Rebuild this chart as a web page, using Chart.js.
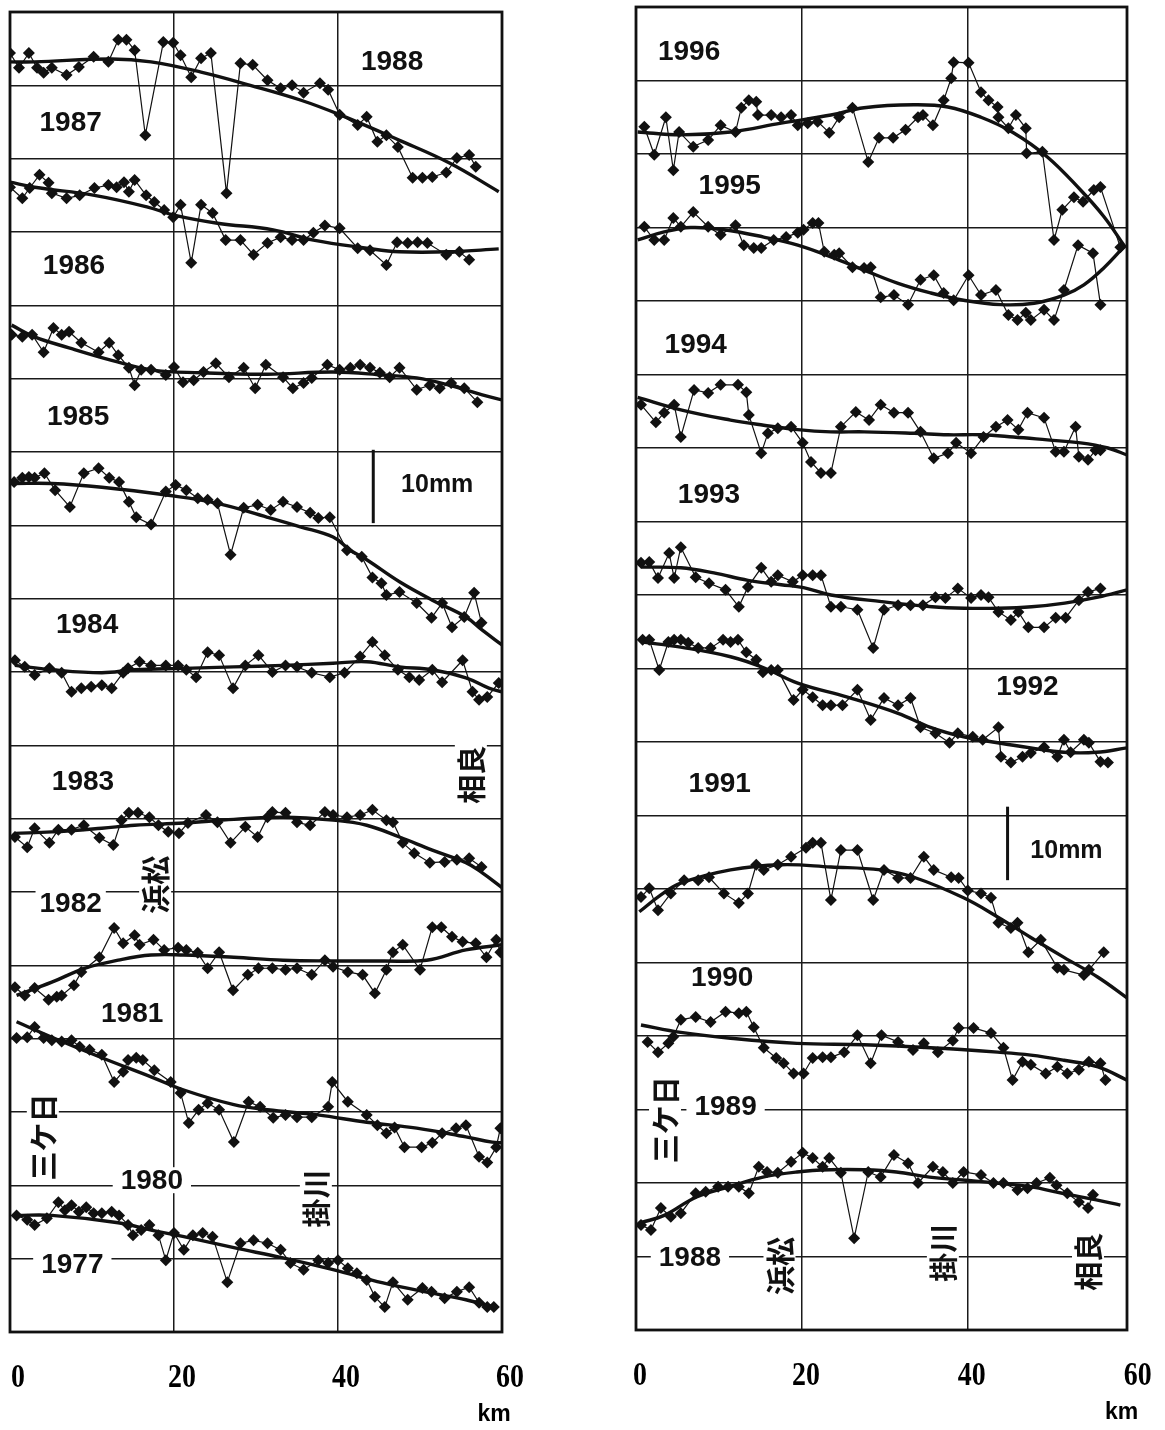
<!DOCTYPE html>
<html><head><meta charset="utf-8">
<script src="https://cdn.jsdelivr.net/npm/chart.js@4.4.1/dist/chart.umd.min.js"></script>
<style>
html,body{margin:0;padding:0;background:#fff;}
#wrap{position:relative;width:1165px;height:1430px;overflow:hidden;}
#cL{position:absolute;left:0;top:0;}
#cR{position:absolute;left:565px;top:0;}
</style></head><body>
<div id="wrap"><canvas id="cL" width="565" height="1430"></canvas><canvas id="cR" width="600" height="1430"></canvas></div>
<script>
// ---- x ticks (km) ----
const kmTicks = [0, 20, 40, 60];

// ---- LEFT PANEL: observed [km, plotted mm] and fitted curves ----
const obs8788 = [[0,174.4],[1.1,172.4],[2.3,174.4],[3.3,172.4],[4.1,171.7],[5.1,172.4],[6.9,171.4],[8.4,172.5],[10.2,173.9],[12.0,173.2],[13.2,176.2],[14.2,176.2],[15.2,174.8],[16.5,163.2],[18.7,175.9],[19.9,175.8],[20.8,174.1],[22.1,171.1],[23.3,173.7],[24.5,174.4],[26.4,155.3],[28.1,173.0],[29.6,172.8],[31.4,170.7],[33.0,169.6],[34.4,170.0],[35.8,169.0],[37.8,170.3],[38.8,169.4],[40.2,166.0],[42.4,164.6],[43.5,165.7],[44.8,162.3],[45.9,163.2],[47.3,161.6],[49.1,157.4],[50.3,157.4],[51.5,157.5],[53.2,158.1],[54.5,160.1],[56.0,160.5],[56.8,158.9]];
const fit8788 = [[0,173.2],[3.0,173.2],[12.4,173.6],[17.2,173.2],[23.3,171.8],[29.3,170.0],[35.4,168.0],[40.2,166.0],[47.5,162.5],[53.6,159.4],[59.6,155.5]];

const obs8687 = [[0,156.1],[1.5,154.6],[2.4,156.0],[3.6,157.8],[4.7,156.7],[5.1,155.3],[6.9,154.6],[8.5,155.0],[10.3,156.0],[12.0,156.4],[13.0,156.1],[13.9,156.8],[14.5,155.5],[15.2,157.1],[16.6,155.0],[17.6,154.1],[18.8,153.0],[19.9,152.0],[20.8,153.7],[22.1,145.8],[23.3,153.7],[24.7,152.6],[26.3,148.9],[28.1,148.9],[29.7,146.9],[31.4,148.5],[33.0,149.3],[34.4,148.9],[35.8,148.9],[37.0,149.9],[38.4,150.9],[40.2,150.5],[42.4,147.8],[43.9,147.5],[45.9,145.5],[47.2,148.6],[48.5,148.5],[49.7,148.6],[50.9,148.5],[53.2,146.9],[54.8,147.3],[56.0,146.2]];
const fit8687 = [[0,156.8],[3.0,156.1],[10.3,155.0],[16.8,153.4],[20.0,152.3],[25.3,151.2],[32.1,150.3],[37.0,148.9],[43.5,147.8],[47.5,147.3],[53.6,147.3],[59.6,147.7]];

const obs8586 = [[0.2,136.0],[1.5,135.7],[2.7,136.0],[4.1,133.6],[5.3,136.9],[6.3,136.0],[7.2,136.4],[8.7,134.9],[10.8,133.6],[12.1,134.9],[13.2,133.2],[14.5,131.5],[15.2,129.1],[16.0,131.2],[17.2,131.2],[19.0,130.5],[20.0,131.6],[21.1,129.5],[22.4,129.8],[23.6,130.9],[25.1,132.1],[26.7,130.2],[28.5,131.5],[29.9,128.7],[31.2,131.9],[33.3,130.2],[34.5,128.7],[35.8,129.4],[36.8,130.1],[38.7,131.9],[40.2,131.2],[41.5,131.5],[42.7,131.9],[43.9,131.5],[45.1,130.8],[46.3,130.2],[47.5,131.5],[49.6,128.5],[51.2,129.1],[52.4,128.7],[53.8,129.4],[55.4,128.7],[57.0,126.8]];
const fit8586 = [[0.2,137.3],[3.0,135.7],[7.2,134.2],[12.4,132.5],[17.2,131.2],[23.3,130.8],[31.4,130.6],[39.4,130.9],[45.5,130.5],[49.6,130.1],[53.6,129.1],[57.6,127.8],[60,127.1]];

const obs8485 = [[0.5,115.9],[1.5,116.5],[2.3,116.6],[3.0,116.5],[4.2,117.1],[5.5,114.8],[7.3,112.5],[9.0,117.1],[10.8,117.8],[12.1,116.5],[13.3,115.9],[14.5,113.2],[15.4,111.1],[17.2,110.1],[19.0,114.6],[20.2,115.5],[21.5,114.8],[22.9,113.7],[24.1,113.5],[25.3,113.0],[26.9,106.0],[28.5,112.4],[30.2,112.8],[31.8,112.1],[33.3,113.2],[35.0,112.5],[36.6,111.7],[37.6,111.0],[39.0,111.1],[41.1,106.6],[42.9,105.7],[44.2,102.9],[45.3,102.1],[45.9,100.5],[47.5,100.9],[49.6,99.4],[51.4,97.4],[52.7,99.4],[53.9,96.1],[55.4,97.5],[56.6,100.8],[57.5,96.7]];
const fit8485 = [[0.5,115.7],[5.1,115.7],[11.2,115.2],[19.3,114.1],[25.3,113.0],[31.4,111.1],[35.4,109.8],[39.4,108.4],[41.5,106.6],[43.5,105.3],[47.5,102.3],[51.5,99.8],[55.6,97.5],[57.6,95.7],[60,93.7]];

const obs8384 = [[0.6,91.6],[1.8,90.7],[3.0,89.6],[4.8,90.5],[6.3,89.9],[7.5,87.3],[8.7,87.8],[9.9,88.0],[11.2,88.2],[12.4,87.8],[13.8,89.9],[14.4,90.5],[15.8,91.4],[17.2,90.9],[19.0,90.9],[20.5,90.9],[21.5,90.3],[22.7,89.3],[24.1,92.7],[25.5,92.3],[27.2,87.8],[28.7,90.9],[30.3,92.3],[32.0,90.0],[33.6,90.9],[35.0,90.7],[36.8,89.9],[39.0,89.3],[40.8,89.9],[42.7,92.1],[44.2,94.1],[45.7,92.3],[47.3,90.3],[48.7,89.3],[49.9,88.9],[51.5,90.3],[52.7,88.6],[55.2,91.6],[56.4,87.3],[57.2,86.2],[58.2,86.6],[59.6,88.5]];
const fit8384 = [[0.6,90.9],[5.1,90.3],[11.2,89.9],[15.2,90.3],[21.2,90.5],[27.3,90.7],[33.3,90.9],[39.4,91.2],[43.5,91.4],[47.5,90.7],[51.5,90.3],[55.6,89.2],[58.4,87.8],[60,87.3]];

const obs8283 = [[0.6,67.5],[2.1,66.1],[3.0,68.7],[4.8,66.7],[5.9,68.5],[7.5,68.5],[9.0,69.1],[10.9,67.4],[12.6,66.4],[13.6,69.8],[14.5,70.8],[15.6,70.8],[17.0,70.2],[18.1,69.1],[19.3,68.2],[20.6,68.0],[21.7,69.4],[23.9,70.5],[25.3,69.5],[26.9,66.7],[28.7,68.9],[30.2,67.5],[31.4,70.2],[32.0,70.9],[33.6,70.8],[35.0,69.5],[36.6,69.1],[38.4,70.9],[39.4,70.5],[41.1,70.2],[42.7,70.5],[44.2,71.2],[45.9,69.8],[46.7,69.5],[47.9,66.7],[49.3,65.3],[51.2,64.0],[53.0,64.1],[54.5,64.4],[56.0,64.6],[57.5,63.4]];
const fit8283 = [[0.6,68.0],[5.1,68.2],[11.2,68.7],[15.2,69.1],[21.2,69.4],[27.3,69.9],[33.3,70.2],[39.4,69.8],[43.5,69.1],[47.5,67.5],[51.5,65.7],[55.6,64.0],[57.6,62.6],[60,60.6]];

const obs8182 = [[0.6,47.0],[1.8,45.9],[3.0,46.9],[4.7,45.3],[5.7,45.7],[6.3,45.9],[7.8,47.3],[8.7,49.1],[10.9,51.1],[12.7,55.1],[13.8,53.0],[15.2,54.1],[15.8,52.8],[17.5,53.5],[18.8,52.1],[20.5,52.4],[21.5,52.1],[22.9,51.7],[24.1,49.6],[25.5,51.8],[27.2,46.6],[29.0,48.7],[30.3,49.6],[32.0,49.6],[33.6,49.4],[35.0,49.6],[36.8,48.7],[38.4,50.7],[39.4,49.8],[41.2,49.1],[43.0,48.7],[44.5,46.2],[45.9,49.4],[46.7,51.8],[47.9,52.8],[50.0,49.4],[51.5,55.2],[52.6,55.2],[53.9,53.9],[55.2,53.2],[56.8,53.0],[58.1,51.1],[59.3,53.5],[59.8,51.8]];
const fit8182 = [[0.8,45.9],[5.1,47.7],[9.1,49.6],[13.2,50.7],[17.2,51.4],[21.2,51.4],[27.3,51.1],[33.3,50.7],[39.4,50.6],[45.5,50.6],[50.8,50.7],[55.6,52.1],[60,52.8]];

const obs8081 = [[0.8,40.1],[2.1,40.2],[3.0,41.6],[4.1,40.1],[5.1,39.8],[6.3,39.6],[7.5,39.8],[8.5,38.9],[9.7,38.5],[11.2,37.8],[12.7,34.1],[13.8,35.5],[14.4,37.1],[15.4,37.4],[16.2,37.1],[17.6,35.7],[19.6,34.1],[20.8,32.6],[21.8,28.5],[23.0,30.3],[24.1,31.2],[25.5,30.3],[27.3,25.9],[29.1,31.4],[30.5,30.7],[32.1,29.2],[33.6,29.6],[35.0,29.3],[36.8,29.3],[38.8,30.7],[39.3,34.1],[41.2,31.4],[43.5,29.6],[44.8,28.2],[45.9,27.1],[46.9,27.9],[48.1,25.2],[50.2,25.2],[51.5,25.8],[52.7,27.1],[54.4,27.8],[55.6,28.2],[57.2,23.9],[58.2,23.1],[59.3,25.2],[59.8,27.8]];
const fit8081 = [[0.8,42.3],[5.1,40.2],[11.2,37.4],[17.2,34.8],[21.2,33.0],[27.3,31.0],[31.4,30.3],[37.5,29.6],[43.5,28.6],[49.6,27.8],[55.6,26.6],[58.8,25.9],[60,25.8]];

const obs7780 = [[0.8,15.9],[2.1,15.3],[3.0,14.6],[4.5,15.5],[5.9,17.7],[6.7,16.6],[7.5,17.3],[8.4,16.4],[9.3,17.0],[10.2,16.2],[11.2,16.2],[12.4,16.4],[13.3,15.9],[14.4,14.6],[15.0,13.2],[16.0,13.9],[17.0,14.6],[18.1,13.2],[19.0,9.8],[20.0,13.5],[21.2,11.2],[22.3,13.2],[23.5,13.5],[24.7,13.0],[26.5,6.8],[28.1,12.1],[29.7,12.5],[31.4,12.1],[33.0,11.2],[34.2,9.4],[35.8,8.5],[37.6,9.8],[38.8,9.4],[40.0,9.8],[41.2,8.7],[42.3,8.0],[43.5,7.1],[44.5,4.8],[45.7,3.4],[46.7,6.8],[48.5,4.4],[50.3,6.0],[51.4,5.5],[53.0,4.6],[54.5,5.5],[56.0,6.1],[57.2,4.0],[58.2,3.4],[59.0,3.4]];
const fit7780 = [[0.8,15.9],[5.1,15.9],[13.2,14.9],[17.2,13.9],[21.2,13.0],[27.3,11.5],[33.3,10.1],[39.4,8.5],[45.5,6.7],[51.5,5.3],[55.6,4.4],[59.0,3.4]];

// ---- RIGHT PANEL ----
const obs9596 = [[1.0,163.7],[2.2,159.9],[3.6,165.0],[4.5,157.8],[5.2,163.0],[6.9,161.0],[8.7,161.9],[10.2,163.9],[12.0,163.0],[12.7,166.3],[13.6,167.3],[14.5,167.1],[14.7,165.3],[16.3,165.3],[17.5,165.0],[18.7,165.3],[19.5,163.9],[20.7,164.2],[21.9,164.4],[23.3,162.9],[24.5,165.0],[26.1,166.3],[28.0,158.9],[29.3,162.2],[31.0,162.2],[32.5,163.3],[34.0,165.0],[34.6,165.3],[35.8,163.9],[37.1,167.3],[38.0,170.3],[38.3,172.5],[40.1,172.4],[41.6,168.4],[42.5,167.3],[43.6,166.4],[43.7,165.0],[44.9,163.5],[45.8,165.3],[47.0,163.5],[47.1,160.1],[49.0,160.3],[50.4,148.3],[51.4,152.4],[52.8,154.1],[53.9,153.5],[55.2,155.1],[56.0,155.5],[58.4,147.3]];
const fit9596 = [[0.2,163.0],[5.4,162.6],[11.4,163.0],[17.5,164.2],[23.5,165.3],[27.5,166.3],[33.5,166.7],[37.6,166.4],[41.6,165.0],[45.5,162.9],[49.6,159.6],[53.6,155.1],[56.4,151.5],[59.0,147.3]];

const obs9495 = [[1.0,150.1],[2.2,148.3],[3.4,148.3],[4.5,151.3],[5.4,150.1],[6.9,152.1],[8.7,150.1],[10.2,149.0],[12.0,150.3],[13.0,147.6],[14.2,147.2],[15.1,147.2],[16.6,148.3],[18.1,148.7],[19.5,149.3],[20.2,149.7],[21.3,150.6],[22.0,150.6],[22.7,146.7],[23.9,146.3],[24.5,146.5],[26.1,144.6],[27.5,144.5],[28.3,144.6],[29.5,140.5],[31.1,140.8],[32.8,139.5],[34.3,142.9],[35.9,143.5],[37.1,141.1],[38.3,140.1],[40.1,143.5],[41.6,140.8],[43.4,141.5],[44.9,138.1],[46.0,137.4],[47.0,138.4],[47.6,137.4],[49.2,138.8],[50.4,137.4],[51.6,141.5],[53.3,147.6],[55.1,146.5],[56.0,139.5]];
const fit9495 = [[0.2,148.3],[3.4,149.4],[6.6,150.0],[10.6,149.7],[15.4,148.7],[19.5,147.6],[23.5,146.0],[27.5,144.2],[31.6,142.4],[35.5,141.1],[39.5,140.1],[44.0,139.5],[48.0,139.7],[51.6,140.8],[54.0,142.2],[56.4,144.5],[59.0,147.6]];

const obs9394 = [[0.6,125.9],[2.4,123.5],[3.4,124.8],[4.6,125.9],[5.4,121.5],[7.0,127.9],[8.7,127.5],[10.2,128.6],[12.3,128.6],[13.3,127.6],[13.6,124.5],[15.1,119.3],[15.9,122.0],[17.1,122.7],[18.7,122.9],[20.1,120.7],[21.1,118.1],[22.3,116.6],[23.5,116.6],[24.7,122.9],[26.5,124.9],[28.1,123.8],[29.5,125.9],[31.1,124.8],[32.8,124.8],[34.3,122.2],[35.9,118.6],[37.6,119.3],[38.6,120.7],[40.4,119.3],[41.9,121.5],[43.4,122.9],[44.8,123.8],[46.1,122.5],[47.2,124.8],[49.2,124.1],[50.6,119.5],[51.6,119.5],[53.0,122.9],[53.4,118.8],[54.5,118.4],[55.4,119.7],[56.0,119.7]];
const fit9394 = [[0.2,126.9],[5.4,125.2],[11.4,123.8],[15.4,123.1],[19.5,122.5],[23.5,122.2],[27.5,122.2],[33.5,122.0],[37.6,121.8],[41.6,121.8],[45.5,121.5],[49.6,121.1],[53.6,120.7],[56.9,120.0],[59.2,119.05]];

const obs9293 = [[0.6,104.4],[1.6,104.5],[2.65,102.3],[4.0,105.7],[4.6,102.3],[5.4,106.5],[7.2,102.4],[8.8,101.6],[10.8,100.7],[12.4,98.4],[13.5,101.1],[15.1,103.7],[16.3,101.8],[17.1,102.7],[18.9,101.8],[20.1,102.7],[21.3,102.7],[22.3,102.7],[23.5,98.4],[24.7,98.4],[26.7,98.0],[28.6,92.8],[29.9,98.0],[31.6,98.6],[33.1,98.6],[34.6,98.6],[36.1,99.7],[37.3,99.6],[38.8,100.9],[40.4,99.6],[41.6,100.0],[42.5,99.7],[43.7,97.7],[45.2,96.6],[46.1,97.7],[47.3,95.6],[49.2,95.6],[50.6,96.9],[51.8,96.9],[53.4,99.3],[54.5,100.4],[56.0,100.9]];
const fit9293 = [[0.6,103.8],[5.4,103.7],[9.4,103.0],[13.5,102.0],[17.5,101.4],[20.2,101.0],[23.5,100.0],[29.6,99.1],[35.7,98.4],[39.6,98.2],[43.7,98.2],[47.7,98.4],[51.7,98.9],[55.7,99.7],[59.2,100.7]];

const obs9192 = [[0.8,93.9],[1.6,93.9],[2.8,89.8],[3.9,93.6],[4.6,93.9],[5.4,93.9],[6.3,93.5],[7.5,92.8],[9.0,92.8],[10.5,93.9],[11.4,93.6],[12.3,93.9],[13.3,92.2],[14.5,91.2],[15.3,89.5],[16.3,89.8],[17.1,89.8],[19.0,85.7],[20.1,87.1],[21.3,86.1],[22.5,85.0],[23.5,85.0],[24.9,85.0],[26.7,87.1],[28.3,83.0],[29.9,86.0],[31.6,85.0],[33.1,86.0],[34.3,82.0],[36.1,81.2],[37.8,79.9],[38.8,81.2],[40.6,80.7],[41.8,80.3],[43.7,82.0],[44.0,78.0],[45.2,77.2],[46.6,78.0],[47.6,78.5],[49.2,79.3],[50.8,78.0],[51.6,80.3],[52.4,78.6],[54.0,80.3],[54.6,79.9],[56.0,77.3],[56.9,77.2]];
const fit9192 = [[0.8,93.6],[5.4,92.9],[11.4,91.6],[15.4,90.1],[19.5,88.0],[25.5,86.1],[31.6,83.9],[35.5,82.0],[39.5,80.7],[43.6,79.9],[47.6,79.2],[51.6,78.6],[55.5,78.6],[59.2,79.2]];

const obs9091 = [[0.6,58.9],[1.6,60.1],[2.65,57.1],[4.2,59.4],[5.8,61.2],[7.5,61.2],[8.8,61.6],[10.6,59.4],[12.4,58.1],[13.5,59.4],[14.5,63.3],[15.4,62.6],[17.1,63.3],[18.7,64.4],[20.5,65.6],[21.3,66.3],[22.3,66.3],[23.5,58.5],[24.7,65.3],[26.7,65.3],[28.6,58.5],[29.9,62.6],[31.6,61.5],[33.1,61.5],[34.7,64.4],[35.9,62.6],[38.0,61.6],[38.9,61.5],[40.0,59.8],[41.6,59.4],[42.8,58.8],[43.7,55.4],[45.2,54.7],[46.0,55.4],[47.3,51.4],[48.8,53.1],[50.8,49.3],[51.6,49.0],[54.0,48.3],[54.6,49.0],[56.4,51.4]];
const fit9091 = [[0.4,56.9],[3.0,59.2],[5.4,60.8],[11.4,62.6],[17.5,63.3],[23.5,63.0],[29.5,62.6],[33.5,61.6],[39.5,58.8],[43.6,56.2],[47.6,53.4],[51.6,50.7],[55.7,48.0],[59.2,45.2]];

const obs8990 = [[1.4,39.2],[2.65,37.8],[3.9,39.0],[4.5,39.9],[5.4,42.2],[7.2,42.6],[9.0,41.9],[10.8,43.3],[12.4,43.1],[13.3,43.3],[14.2,41.2],[15.4,38.4],[16.9,37.0],[17.8,36.3],[19.0,34.9],[20.2,34.9],[21.3,37.0],[22.5,37.1],[23.5,37.1],[25.1,37.8],[26.7,40.1],[28.3,36.3],[29.6,40.1],[31.6,39.2],[33.4,38.1],[34.7,39.0],[36.4,37.8],[38.2,39.4],[38.9,41.1],[40.7,41.1],[42.8,40.4],[44.3,38.4],[45.4,34.0],[46.6,36.5],[47.6,36.1],[49.4,34.9],[50.8,35.8],[52.0,34.9],[53.4,35.4],[54.6,36.5],[56.0,36.3],[56.6,34.0]];
const fit8990 = [[0.6,41.5],[5.4,40.5],[11.4,39.7],[19.4,39.0],[27.5,38.8],[35.5,38.4],[43.6,37.8],[47.6,37.4],[51.6,36.7],[55.7,35.8],[59.2,34.0]];

const obs8889 = [[0.6,14.3],[1.8,13.6],[3.0,16.6],[4.2,15.4],[5.4,15.9],[7.2,18.6],[8.4,18.8],[9.9,19.5],[11.1,19.5],[12.4,19.5],[13.6,18.6],[14.8,22.2],[15.8,21.5],[17.1,21.4],[18.7,22.9],[20.1,24.1],[21.3,23.4],[22.5,22.2],[23.3,23.4],[24.7,21.4],[26.3,12.5],[28.0,21.5],[29.5,20.8],[31.1,23.8],[32.8,22.7],[34.0,20.0],[35.8,22.2],[37.0,21.5],[38.2,20.0],[39.5,21.5],[41.6,21.1],[43.1,20.0],[44.3,20.0],[46.0,19.05],[47.2,19.3],[48.3,20.0],[49.9,20.7],[50.7,19.7],[52.0,18.6],[53.4,17.4],[54.5,16.6],[55.1,18.4]];
const fit8889 = [[0.6,14.6],[3.4,15.6],[7.3,18.1],[11.3,19.5],[15.3,20.8],[19.4,21.5],[23.4,21.8],[27.5,21.8],[31.4,21.5],[35.4,20.8],[39.4,20.4],[43.5,20.0],[47.5,19.5],[51.4,18.6],[55.5,17.7],[58.4,17.0]];

// ---- text labels ----
const leftYearLabels  = ['1988','1987','1986','1985','1984','1983','1982','1981','1980','1977'];
const rightYearLabels = ['1996','1995','1994','1993','1992','1991','1990','1989','1988'];
const placeNames = ['相良','浜松','三ケ日','掛川'];
const scaleText = '10mm';
const axisUnit = 'km';

// ---- layout of annotations (km, mm positions on the plot) ----
const YF = 'bold 28px "Liberation Sans", Arial, sans-serif';
const JF = 'bold 29px "Noto Sans CJK JP", sans-serif';
const SF = 'bold 25px "Liberation Sans", Arial, sans-serif';
const leftAnn = [
  {t:leftYearLabels[0], km:46.6, mm:173.3, font:YF, h:26, pad:4},
  {t:leftYearLabels[1], km:7.4,  mm:164.9, font:YF, h:26, pad:4},
  {t:leftYearLabels[2], km:7.8,  mm:145.5, font:YF, h:26, pad:4},
  {t:leftYearLabels[3], km:8.3,  mm:124.9, font:YF, h:26, pad:4},
  {t:leftYearLabels[4], km:9.4,  mm:96.5,  font:YF, h:26, pad:4},
  {t:leftYearLabels[5], km:8.9,  mm:75.1,  font:YF, h:26, pad:4},
  {t:leftYearLabels[6], km:7.4,  mm:58.4,  font:YF, h:26, pad:4},
  {t:leftYearLabels[7], km:14.9, mm:43.5,  font:YF, h:26, pad:4},
  {t:leftYearLabels[8], km:17.3, mm:20.7,  font:YF, h:26, pad:8},
  {t:leftYearLabels[9], km:7.6,  mm:9.3,   font:YF, h:26, pad:8},
  {t:placeNames[0], km:56.2, mm:76.0, font:JF, h:32, pad:2, rot:-Math.PI/2},
  {t:placeNames[1], km:17.7, mm:61.0, font:JF, h:32, pad:2, rot:-Math.PI/2},
  {t:placeNames[2], km:4.0,  mm:26.6, font:JF, h:32, pad:2, rot:-Math.PI/2},
  {t:placeNames[3], km:37.3, mm:18.2, font:JF, h:32, pad:2, rot:-Math.PI/2},
  {t:scaleText, km:52.1, mm:115.6, font:SF, h:0, pad:0},
  {bar:true, km:44.3, mm1:120.3, mm2:110.3}
];
const rightAnn = [
  {t:rightYearLabels[0], km:6.4,  mm:174.0, font:YF, h:26, pad:4},
  {t:rightYearLabels[1], km:11.3, mm:155.8, font:YF, h:26, pad:4},
  {t:rightYearLabels[2], km:7.2,  mm:134.1, font:YF, h:26, pad:4},
  {t:rightYearLabels[3], km:8.8,  mm:113.7, font:YF, h:26, pad:4},
  {t:rightYearLabels[4], km:47.2, mm:87.6,  font:YF, h:26, pad:4},
  {t:rightYearLabels[5], km:10.1, mm:74.4,  font:YF, h:26, pad:4},
  {t:rightYearLabels[6], km:10.4, mm:48.0,  font:YF, h:26, pad:4},
  {t:rightYearLabels[7], km:10.8, mm:30.5,  font:YF, h:26, pad:8},
  {t:rightYearLabels[8], km:6.5,  mm:9.9,   font:YF, h:26, pad:8},
  {t:placeNames[2], km:3.5,  mm:28.6, font:JF, h:32, pad:2, rot:-Math.PI/2},
  {t:placeNames[1], km:17.3, mm:8.7,  font:JF, h:32, pad:4, rot:-Math.PI/2},
  {t:placeNames[3], km:37.0, mm:10.5, font:JF, h:32, pad:4, rot:-Math.PI/2},
  {t:placeNames[0], km:54.5, mm:9.3,  font:JF, h:32, pad:4, rot:-Math.PI/2},
  {t:scaleText, km:51.9, mm:65.3, font:SF, h:0, pad:0},
  {bar:true, km:44.8, mm1:71.2, mm2:61.2}
];

// ---- plugins ----
const annotate = {
  id:'annotate',
  beforeDatasetsDraw(chart, args, opts) {
    const {ctx, scales:{x, y}} = chart;
    for (const a of opts.items) {
      ctx.save();
      if (a.bar) {
        const px = x.getPixelForValue(a.km);
        ctx.strokeStyle = '#111'; ctx.lineWidth = 3;
        ctx.beginPath(); ctx.moveTo(px, y.getPixelForValue(a.mm1)); ctx.lineTo(px, y.getPixelForValue(a.mm2)); ctx.stroke();
        ctx.restore(); continue;
      }
      ctx.translate(x.getPixelForValue(a.km), y.getPixelForValue(a.mm));
      if (a.rot) ctx.rotate(a.rot);
      ctx.font = a.font;
      const w = ctx.measureText(a.t).width;
      if (a.h) { ctx.fillStyle = '#fff'; ctx.fillRect(-w/2 - a.pad, -a.h/2, w + 2*a.pad, a.h); }
      ctx.fillStyle = '#111'; ctx.textAlign = 'center'; ctx.textBaseline = 'middle';
      ctx.fillText(a.t, 0, 1);
      ctx.restore();
    }
  }
};
const frameAndTicks = {
  id:'frameAndTicks',
  afterDraw(chart, args, opts) {
    const {ctx, chartArea:ca, scales:{x}} = chart;
    ctx.save();
    ctx.strokeStyle = '#111'; ctx.lineWidth = 2.8;
    ctx.strokeRect(ca.left, ca.top, ca.right - ca.left, ca.bottom - ca.top);
    ctx.fillStyle = '#000'; ctx.textAlign = 'center'; ctx.textBaseline = 'middle';
    ctx.font = 'bold 34px "Liberation Serif", "Times New Roman", serif';
    for (const v of kmTicks) {
      ctx.save();
      ctx.translate(x.getPixelForValue(v) + opts.dx, ca.bottom + 46);
      ctx.scale(0.82, 1);
      ctx.fillText(String(v), 0, 0);
      ctx.restore();
    }
    ctx.font = 'bold 23px "Liberation Sans", Arial, sans-serif';
    ctx.fillText(axisUnit, x.getPixelForValue(60) + opts.kmdx, ca.bottom + 83);
    ctx.restore();
  }
};

function profileSets(obs, fit) {
  return [
    {data: obs, borderColor:'#111', borderWidth:1.2, pointStyle:'rectRot', pointRadius:6,
     pointBackgroundColor:'#111', pointBorderColor:'#111', pointBorderWidth:0, tension:0, fill:false},
    {data: fit, borderColor:'#111', borderWidth:3.4, pointRadius:0, tension:0.4, fill:false}
  ];
}

function makeChart(id, sets, xmax, pad, ann, dx, kmdx) {
  return new Chart(document.getElementById(id), {
    type:'line',
    data:{datasets: sets},
    options:{
      responsive:false, animation:false, devicePixelRatio:1,
      layout:{padding:pad},
      plugins:{legend:{display:false}, tooltip:{enabled:false},
               annotate:{items:ann}, frameAndTicks:{dx:dx, kmdx:kmdx}},
      scales:{
        x:{type:'linear', min:0, max:xmax,
           ticks:{display:false, stepSize:20}, border:{display:false},
           grid:{drawTicks:false, color:'#1a1a1a', lineWidth:1.5}},
        y:{type:'linear', min:0, max:180,
           ticks:{display:false, stepSize:10}, border:{display:false},
           grid:{drawTicks:false, color:'#1a1a1a', lineWidth:1.5}}
      }
    },
    plugins:[annotate, frameAndTicks]
  });
}

const leftSets = [].concat(
  profileSets(obs8788, fit8788), profileSets(obs8687, fit8687), profileSets(obs8586, fit8586),
  profileSets(obs8485, fit8485), profileSets(obs8384, fit8384), profileSets(obs8283, fit8283),
  profileSets(obs8182, fit8182), profileSets(obs8081, fit8081), profileSets(obs7780, fit7780));
const rightSets = [].concat(
  profileSets(obs9596, fit9596), profileSets(obs9495, fit9495), profileSets(obs9394, fit9394),
  profileSets(obs9293, fit9293), profileSets(obs9192, fit9192), profileSets(obs9091, fit9091),
  profileSets(obs8990, fit8990), profileSets(obs8889, fit8889));

makeChart('cL', leftSets, 60, {left:10, right:63, top:12, bottom:98}, leftAnn, 8, -8);
makeChart('cR', rightSets, 59.2, {left:71, right:38, top:7, bottom:100}, rightAnn, 4, -12);
</script></body></html>
